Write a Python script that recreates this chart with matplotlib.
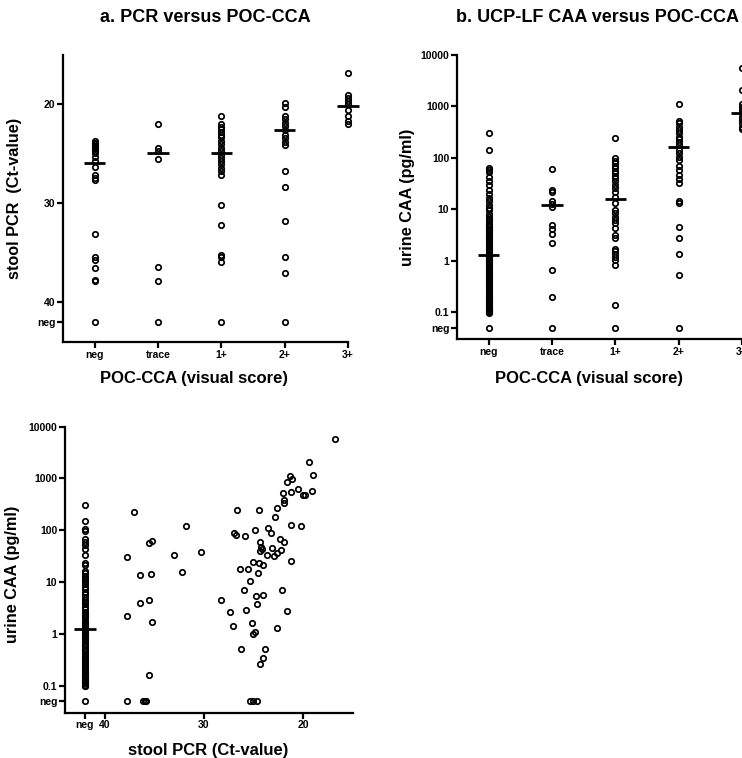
import matplotlib.pyplot as plt

plt.rcParams['font.family'] = ['Liberation Sans', 'DejaVu Sans']
plt.rcParams['font.weight'] = 'bold'

cca_scores = ["neg", "trace", "1+", "2+", "3+"]

# stool PCR Ct-values for each POC-CCA score, 42 = PCR negative
pcr_cca_neg = [23.7, 23.9, 24.0, 24.2, 24.4, 24.5, 24.7, 24.9, 25.3, 25.7, 26.3,
               27.1, 27.4, 27.6, 33.1, 35.4, 35.7, 36.5, 37.7, 37.8, 42]
pcr_cca_trace = [22.0, 24.4, 24.7, 25.5, 36.4, 37.8, 42]
pcr_cca_1 = [21.2, 22.0, 22.3, 22.5, 22.8, 23.1, 23.3, 23.7, 24.0, 24.4, 24.7, 25.1,
             25.4, 25.7, 26.0, 26.4, 26.7, 27.1, 30.2, 32.2, 35.2, 35.4, 35.9, 42]
pcr_cca_2 = [19.9, 20.3, 21.2, 21.5, 21.9, 22.2, 22.6, 23.1, 23.4, 23.8, 24.1,
             26.7, 28.3, 31.8, 35.4, 37.0, 42]
pcr_cca_3 = [16.8, 19.0, 19.3, 19.6, 20.0, 20.6, 21.2, 21.7, 22.0]
pcr_medians = [25.9, 24.9, 24.9, 22.6, 20.2]

# urine CAA (pg/ml) for each POC-CCA score, 0.05 = CAA negative
caa_cca_neg = [302, 139, 63, 58, 52, 42, 35, 30, 24, 20, 16.5, 14.3, 12, 10.5, 9.5,
               8.2, 7.2, 6.5, 5.8, 5.2, 4.8, 4.5, 4.1, 3.8, 3.5, 3.2, 3.0, 2.8, 2.6,
               2.4, 2.2, 2.0, 1.9, 1.8, 1.7, 1.6, 1.5, 1.4, 1.3, 1.25, 1.2, 1.1, 1.05,
               1.0, 0.95, 0.9, 0.85, 0.8, 0.75, 0.7, 0.65, 0.6, 0.56, 0.52, 0.48, 0.45,
               0.42, 0.39, 0.36, 0.33, 0.31, 0.29, 0.27, 0.25, 0.23, 0.21, 0.2, 0.19,
               0.18, 0.17, 0.16, 0.15, 0.14, 0.13, 0.125, 0.12, 0.115, 0.11, 0.105,
               0.1, 0.098, 0.05]
caa_cca_trace = [60, 24, 22, 14.2, 12.8, 11.3, 5.0, 4.1, 3.3, 2.2, 0.67, 0.197, 0.05]
caa_cca_1 = [248, 99, 87, 79, 70, 63, 56, 50, 45, 40, 35, 30, 25.8, 22, 17.7, 13.2,
             9.8, 8.4, 7.2, 6.3, 5.4, 4.4, 3.2, 2.8, 1.71, 1.51, 1.35, 1.2, 1.05, 0.81,
             0.14, 0.05]
caa_cca_2 = [1100, 523, 472, 405, 350, 302, 259, 234, 202, 174, 143, 123, 106, 91,
             68, 58, 47, 39, 32, 14.6, 13.2, 4.6, 2.8, 1.35, 0.52, 0.05]
caa_cca_3 = [5500, 2090, 1100, 990, 850, 738, 635, 547, 472, 405, 366]
caa_medians = [1.3, 12.2, 16, 161, 740]

# urine CAA against stool PCR Ct-value
pcr_ct = [37.0, 37.8, 37.8, 36.45, 36.45, 35.54, 35.27, 35.37, 35.5, 35.27, 35.58,
          32.98, 32.23, 31.8, 30.27, 37.8, 36.1, 35.9, 35.8,
          16.8, 19.4, 18.96, 19.06, 20.5, 19.97, 19.84, 21.33, 21.09, 21.67, 21.26,
          22.0, 21.9, 21.9, 22.67, 22.87, 24.47, 26.66, 21.19, 20.24, 24.8, 23.55,
          23.2, 27.0, 26.8, 25.9, 24.35, 22.34, 21.93, 24.2, 24.1, 23.1, 24.3, 23.6,
          22.95, 22.6, 22.27, 21.19, 25.04, 24.43, 24.02, 26.4, 25.54, 24.57, 25.38,
          25.99, 22.1, 24.7, 24.06, 28.28, 27.33, 25.71, 24.63, 21.66, 27.1, 25.14,
          22.67, 25.04, 24.87, 26.25, 23.86, 24.0, 24.3, 25.4, 25.0, 24.6]
pcr_caa = [225, 31, 2.26, 13.4, 3.86, 56, 62, 14.5, 4.6, 1.68, 0.163,
           33, 15.5, 120, 38, 0.05, 0.05, 0.05, 0.05,
           5730, 2120, 1150, 573, 620, 473, 473, 1120, 993, 855, 550,
           533, 385, 342, 274, 183, 246, 246, 124, 120, 100, 112,
           87, 90, 82, 77, 59, 67, 59, 48, 43, 46, 40, 34,
           32, 37, 41, 26, 24, 23.6, 21.6, 18, 17.5, 14.7, 10.4,
           6.9, 7.0, 5.3, 5.5, 4.6, 2.6, 2.86, 3.8, 2.79, 1.4, 1.63,
           1.31, 1.0, 1.09, 0.50, 0.50, 0.34, 0.26, 0.05, 0.05, 0.05]
pcrneg_caa = [303, 150, 104, 97, 67, 59, 51, 43, 34, 23, 21, 16, 15, 13, 12, 11, 10,
              9.0, 8.0, 7.2, 6.5, 5.8, 5.2, 4.6, 4.1, 3.7, 3.3, 3.0, 2.7, 2.4, 2.2,
              2.0, 1.8, 1.65, 1.5, 1.4, 1.3, 1.2, 1.1, 1.0, 0.93, 0.86, 0.8, 0.74,
              0.68, 0.62, 0.57, 0.52, 0.48, 0.44, 0.4, 0.37, 0.34, 0.31, 0.28, 0.26,
              0.24, 0.22, 0.2, 0.185, 0.17, 0.16, 0.15, 0.14, 0.13, 0.125, 0.12,
              0.115, 0.11, 0.105, 0.1, 0.098, 0.05]
pcrneg_median = 1.25

fig = plt.figure(figsize=(7.42, 7.58), dpi=100)
ax_a = fig.add_axes([63 / 742, 1 - 342 / 758, 285 / 742, 287 / 758])
ax_b = fig.add_axes([457 / 742, 1 - 339 / 758, 285 / 742, 284 / 758])
ax_c = fig.add_axes([65 / 742, 1 - 712.7 / 758, 287.7 / 742, 286 / 758])

mk = dict(marker="o", linestyle="none", mfc="none", mec="black", ms=3.9, mew=1.25, clip_on=False)


def style(ax):
    for s in ["top", "right"]:
        ax.spines[s].set_visible(False)
    for s in ["left", "bottom"]:
        ax.spines[s].set_linewidth(1.6)
    ax.tick_params(direction="out", length=4, width=1.6, labelsize=7.5, pad=1.5)
    ax.minorticks_off()


# a. PCR versus POC-CCA
for i, vals in enumerate([pcr_cca_neg, pcr_cca_trace, pcr_cca_1, pcr_cca_2, pcr_cca_3]):
    ax_a.plot([i] * len(vals), vals, **mk)
    ax_a.hlines(pcr_medians[i], i - 0.17, i + 0.17, color="black", lw=2, clip_on=False)
ax_a.set_xlim(-0.5, 4)
ax_a.set_ylim(44, 15)
ax_a.set_xticks(range(5))
ax_a.set_xticklabels(cca_scores)
ax_a.set_yticks([20, 30, 40, 42])
ax_a.set_yticklabels(["20", "30", "40", "neg"])
style(ax_a)
ax_a.set_ylabel("stool PCR  (Ct-value)", fontsize=11.7, fontweight="bold")
ax_a.set_xlabel("POC-CCA (visual score)", fontsize=12, fontweight="bold")
ax_a.yaxis.set_label_coords(-0.144, 0.5)
ax_a.xaxis.set_label_coords(0.46, -0.101)

# b. UCP-LF CAA versus POC-CCA
for i, vals in enumerate([caa_cca_neg, caa_cca_trace, caa_cca_1, caa_cca_2, caa_cca_3]):
    ax_b.plot([i] * len(vals), vals, **mk)
    ax_b.hlines(caa_medians[i], i - 0.17, i + 0.17, color="black", lw=2, clip_on=False)
ax_b.set_yscale("log")
ax_b.set_xlim(-0.5, 4)
ax_b.set_ylim(0.03, 10000)
ax_b.set_xticks(range(5))
ax_b.set_xticklabels(cca_scores)
ax_b.set_yticks([0.05, 0.1, 1, 10, 100, 1000, 10000])
ax_b.set_yticklabels(["neg", "0.1", "1", "10", "100", "1000", "10000"])
style(ax_b)
ax_b.set_ylabel("urine CAA (pg/ml)", fontsize=11.7, fontweight="bold")
ax_b.set_xlabel("POC-CCA (visual score)", fontsize=12, fontweight="bold")
ax_b.yaxis.set_label_coords(-0.147, 0.5)
ax_b.xaxis.set_label_coords(0.463, -0.113)

# c. CAA versus PCR
ax_c.plot([42] * len(pcrneg_caa), pcrneg_caa, **mk)
ax_c.plot(pcr_ct, pcr_caa, **mk)
ax_c.hlines(pcrneg_median, 43.1, 40.9, color="black", lw=2)
ax_c.set_yscale("log")
ax_c.set_xlim(44, 15)
ax_c.set_ylim(0.03, 10000)
ax_c.set_xticks([42, 40, 30, 20])
ax_c.set_xticklabels(["neg", "40", "30", "20"])
ax_c.set_yticks([0.05, 0.1, 1, 10, 100, 1000, 10000])
ax_c.set_yticklabels(["neg", "0.1", "1", "10", "100", "1000", "10000"])
style(ax_c)
ax_c.set_ylabel("urine CAA (pg/ml)", fontsize=11.7, fontweight="bold")
ax_c.set_xlabel("stool PCR (Ct-value)", fontsize=12, fontweight="bold")
ax_c.yaxis.set_label_coords(-0.156, 0.485)
ax_c.xaxis.set_label_coords(0.497, -0.106)

fig.text(205 / 742, 1 - 18 / 758, "a. PCR versus POC-CCA", ha="center", va="center",
         fontsize=13, fontweight="bold")
fig.text(597 / 742, 1 - 18 / 758, "b. UCP-LF CAA versus POC-CCA", ha="center", va="center",
         fontsize=13, fontweight="bold")

fig.savefig("out.png", dpi=100, facecolor="white")
